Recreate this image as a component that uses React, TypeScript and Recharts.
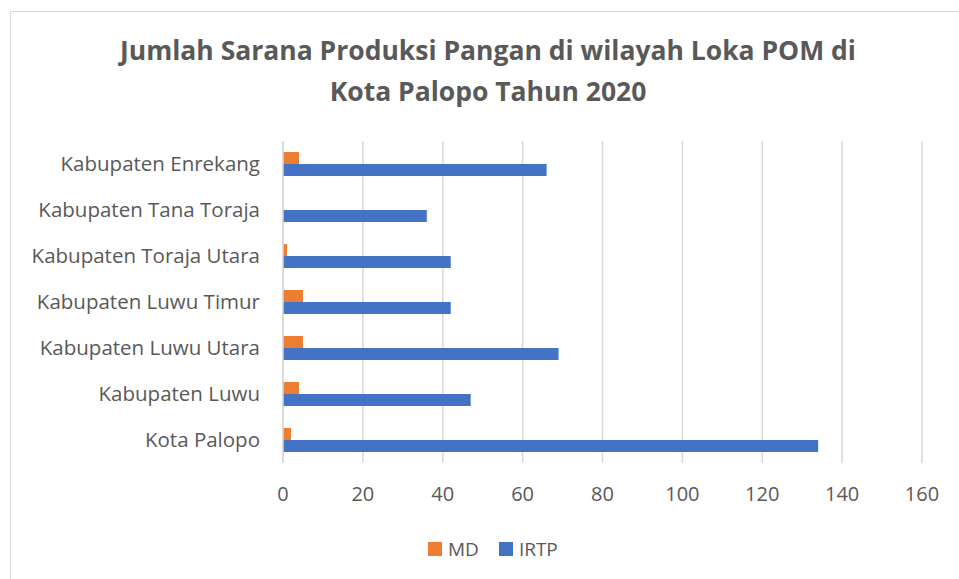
import React from "react";
import { BarChart, Bar, XAxis, YAxis, CartesianGrid } from "recharts";

const regions = [
  "Kabupaten Enrekang",
  "Kabupaten Tana Toraja",
  "Kabupaten Toraja Utara",
  "Kabupaten Luwu Timur",
  "Kabupaten Luwu Utara",
  "Kabupaten Luwu",
  "Kota Palopo",
];
const mdValues = [4, 0, 1, 5, 5, 4, 2];
const irtpValues = [66, 36, 42, 42, 69, 47, 134];
const xTicks = [0, 20, 40, 60, 80, 100, 120, 140, 160];

const data = regions.map((region, i) => ({
  region,
  MD: mdValues[i],
  IRTP: irtpValues[i],
}));

const FONT = "'Open Sans', 'Liberation Sans', sans-serif";
const TEXT = "#595959";

function ChartLegend() {
  const items = [
    { name: "MD", color: "#ED7D31" },
    { name: "IRTP", color: "#4472C4" },
  ];
  return (
    <div
      style={{
        position: "absolute",
        left: 428,
        top: 536,
        display: "flex",
        gap: 20,
      }}
    >
      {items.map((it) => (
        <div key={it.name} style={{ display: "flex", alignItems: "center" }}>
          <span
            style={{
              width: 14,
              height: 14,
              background: it.color,
              display: "inline-block",
              marginRight: 6,
            }}
          />
          <span style={{ fontSize: 19, color: TEXT, fontFamily: FONT }}>
            {it.name}
          </span>
        </div>
      ))}
    </div>
  );
}

export default function App() {
  return (
    <div
      style={{
        position: "absolute",
        left: 0,
        top: 0,
        width: 959,
        height: 579,
        background: "#fff",
        overflow: "hidden",
        fontFamily: FONT,
      }}
    >
      <div
        style={{
          position: "absolute",
          left: 10,
          top: 11,
          width: 960,
          height: 580,
          border: "1px solid #d9d9d9",
        }}
      />
      <div
        style={{
          position: "absolute",
          left: 0,
          top: 30,
          width: 976,
          textAlign: "center",
          fontSize: 26.5,
          fontWeight: 700,
          color: TEXT,
          lineHeight: "41px",
        }}
      >
        Jumlah Sarana Produksi Pangan di wilayah Loka POM di
        <br />
        Kota Palopo Tahun 2020
      </div>
      <div style={{ position: "absolute", left: 0, top: 0 }}>
        <BarChart
          width={959}
          height={579}
          data={data}
          layout="vertical"
          margin={{ top: 141, right: 37, bottom: 0, left: 0 }}
          barGap={0}
          barSize={12}
        >
          <CartesianGrid
            horizontal={false}
            stroke="#d9d9d9"
            strokeWidth={1.5}
          />
          <XAxis
            type="number"
            domain={[0, 160]}
            ticks={xTicks}
            axisLine={false}
            tickLine={false}
            tickMargin={18}
            height={116}
            tick={{ fontSize: 20, fill: TEXT, fontFamily: FONT }}
          />
          <YAxis
            type="category"
            dataKey="region"
            width={283}
            axisLine={{ stroke: "#d9d9d9", strokeWidth: 1.5 }}
            tickLine={false}
            tickMargin={17}
            tick={{ fontSize: 20.5, fill: TEXT, fontFamily: FONT }}
          />
          <Bar dataKey="MD" fill="#ED7D31" isAnimationActive={false} />
          <Bar dataKey="IRTP" fill="#4472C4" isAnimationActive={false} />
        </BarChart>
      </div>
      <ChartLegend />
    </div>
  );
}
